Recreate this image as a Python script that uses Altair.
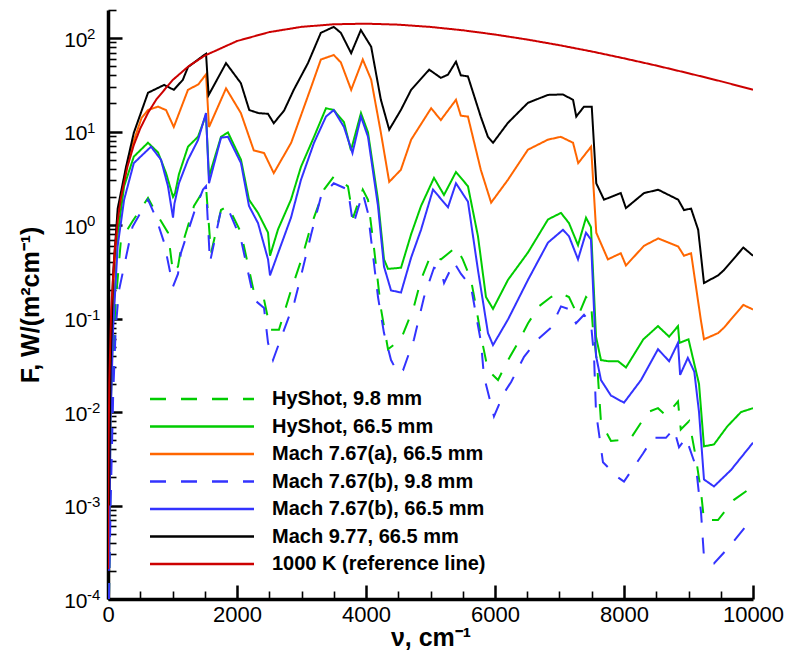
import altair as alt
import pandas as pd

# ---------------- data ----------------
SERIES = ["HyShot, 9.8 mm", "HyShot, 66.5 mm", "Mach 7.67(a), 66.5 mm",
          "Mach 7.67(b), 9.8 mm", "Mach 7.67(b), 66.5 mm", "Mach 9.77, 66.5 mm",
          "1000 K (reference line)"]
COLORS = ["#00cc00", "#00cc00", "#ff6600", "#3333ff", "#3333ff", "#000000", "#cc0000"]
DASHES = [[16, 15], [1, 0], [1, 0], [16, 15], [1, 0], [1, 0], [1, 0]]

nu_hy98 = [15, 40, 80, 120, 200, 380, 620, 744, 930, 1008, 1085, 1130, 1333, 1473, 1519,
           1597, 1752, 1860, 2062, 2264, 2419, 2481, 2527, 2650, 2837, 3000, 3147, 3349,
           3500, 3720, 3800, 3950, 4031, 4120, 4233, 4341, 4543, 4744, 4853, 5000, 5163,
           5395, 5500, 5628, 5705, 5783, 5891, 6047, 6202, 6357, 6512, 6680, 6868, 6990,
           7147, 7287, 7411, 7488, 7519, 7580, 7643, 7798, 7907, 8110, 8372, 8527, 8650,
           8837, 8880, 9010, 9116, 9194, 9240, 9457, 9705, 10000]
F_hy98 = [0.0001, 0.002, 0.03, 0.15, 0.69, 1.1, 1.95, 1.35, 0.83, 0.31, 0.36, 0.55, 1.6,
          2.3, 2.6, 0.5, 1.45, 1.6, 0.83, 0.19, 0.16, 0.1, 0.076, 0.076, 0.2, 0.43, 0.98,
          2.4, 3.3, 2.6, 1.2, 2.4, 1.87, 0.6, 0.126, 0.047, 0.06, 0.135, 0.26, 0.47, 0.43,
          0.58, 0.43, 0.26, 0.135, 0.065, 0.028, 0.022, 0.036, 0.055, 0.089, 0.135, 0.17,
          0.19, 0.17, 0.106, 0.17, 0.15, 0.076, 0.035, 0.0078, 0.0049, 0.005, 0.0053, 0.01,
          0.011, 0.0092, 0.013, 0.0065, 0.008, 0.0032, 0.0014, 0.0007, 0.0007, 0.00115,
          0.0016]

nu_hy665 = [15, 40, 80, 150, 250, 400, 620, 775, 900, 1008, 1040, 1100, 1240, 1395, 1519,
            1566, 1752, 1860, 2062, 2186, 2326, 2481, 2512, 2636, 2837, 2992, 3194, 3380,
            3500, 3659, 3767, 3922, 4031, 4186, 4279, 4341, 4543, 4700, 4853, 5054, 5209,
            5395, 5581, 5736, 5860, 5969, 6202, 6512, 6822, 7023, 7147, 7287, 7411, 7488,
            7566, 7643, 7752, 7907, 8031, 8300, 8527, 8700, 8837, 8860, 9000, 9163, 9240,
            9395, 9600, 9814, 10000]
F_hy665 = [0.0003, 0.01, 0.1, 0.8, 2.6, 5.4, 7.6, 6.0, 3.6, 2.0, 2.2, 3.5, 6.9, 8.8, 15,
           3.3, 8.8, 9.8, 5, 1.87, 1.35, 0.83, 0.47, 0.9, 1.87, 4.2, 8.8, 17.8, 17, 12.6,
           6.3, 15.8, 9.8, 1.87, 0.43, 0.34, 0.35, 0.8, 1.6, 3.2, 2.1, 3.7, 2.6, 0.76,
           0.17, 0.127, 0.26, 0.51, 1.15, 1.35, 1.05, 0.61, 1.2, 0.95, 0.064, 0.036, 0.035,
           0.035, 0.03, 0.06, 0.083, 0.064, 0.083, 0.055, 0.06, 0.02, 0.0043, 0.0045, 0.007,
           0.01, 0.011]

nu_a665 = [15, 40, 80, 150, 280, 400, 520, 620, 775, 900, 1020, 1240, 1400, 1520, 1566,
           1830, 2060, 2260, 2420, 2570, 2840, 3150, 3300, 3500, 3610, 3770, 3950, 4080,
           4230, 4360, 4540, 4700, 5010, 5160, 5395, 5470, 5580, 5780, 5940, 6200, 6510,
           6820, 7020, 7210, 7290, 7490, 7570, 7750, 7950, 8030, 8310, 8530, 8840, 8930,
           9040, 9190, 9240, 9460, 9550, 9850, 10000]
F_a665 = [0.0005, 0.02, 0.2, 1.3, 4, 8, 14, 17, 18.5, 17, 11.2, 28, 32, 41, 11.2, 29, 15.8,
          6.3, 5.9, 3.6, 7.6, 30, 59, 66, 55, 28, 59, 36, 9.8, 2.9, 3.9, 8.2, 17.8, 13.3,
          21.9, 14.8, 14.5, 3.9, 1.74, 3.05, 6.4, 8.2, 8.8, 7.6, 4.6, 6.9, 0.83, 0.43, 0.5,
          0.37, 0.6, 0.72, 0.59, 0.47, 0.5, 0.098, 0.06, 0.07, 0.08, 0.14, 0.125]

nu_b98 = [15, 40, 80, 120, 170, 380, 620, 744, 870, 1008, 1085, 1130, 1333, 1473, 1519,
          1581, 1752, 1860, 2062, 2264, 2419, 2481, 2558, 2690, 2890, 3000, 3150, 3300,
          3500, 3720, 3800, 3950, 4030, 4186, 4279, 4388, 4496, 4574, 4744, 4900, 5054,
          5163, 5210, 5364, 5473, 5628, 5705, 5783, 5829, 5984, 6140, 6250, 6450, 6667,
          6868, 7023, 7132, 7256, 7380, 7488, 7535, 7566, 7674, 7907, 8000, 8155, 8295,
          8450, 8650, 8775, 8853, 8961, 9116, 9194, 9240, 9395, 9628, 9969]
F_b98 = [0.0001, 0.001, 0.015, 0.08, 0.2, 0.96, 1.87, 1.2, 0.65, 0.22, 0.3, 0.5, 1.35, 2.4,
         2.6, 0.4, 1.45, 1.5, 0.7, 0.16, 0.13, 0.055, 0.036, 0.064, 0.15, 0.3, 0.8, 2.0,
         2.8, 2.4, 1.0, 2.2, 1.35, 0.17, 0.07, 0.036, 0.026, 0.028, 0.06, 0.17, 0.35, 0.33,
         0.24, 0.4, 0.3, 0.22, 0.11, 0.056, 0.024, 0.009, 0.016, 0.021, 0.039, 0.06, 0.08,
         0.135, 0.127, 0.089, 0.11, 0.089, 0.04, 0.01, 0.0029, 0.002, 0.0018, 0.0026,
         0.0036, 0.0053, 0.0053, 0.0066, 0.0042, 0.0053, 0.0026, 0.00085, 0.00028, 0.00024,
         0.00036, 0.0007]

nu_b665 = [15, 40, 80, 150, 250, 400, 667, 822, 930, 1008, 1030, 1100, 1240, 1395, 1519,
           1566, 1752, 1860, 2062, 2186, 2326, 2481, 2512, 2636, 2837, 2992, 3194, 3380,
           3500, 3659, 3790, 3922, 4031, 4186, 4279, 4388, 4543, 4700, 4853, 5039, 5271,
           5395, 5581, 5736, 5891, 5969, 6202, 6512, 6822, 7054, 7147, 7287, 7411, 7488,
           7566, 7643, 7798, 8000, 8264, 8527, 8700, 8837, 8870, 8990, 9090, 9163, 9240,
           9395, 9659, 10000]
F_b665 = [0.0002, 0.008, 0.08, 0.6, 1.87, 4.6, 6.9, 5.0, 2.6, 1.2, 1.7, 2.8, 5, 8.1, 15.8,
          2.8, 8.6, 8.8, 4.6, 1.6, 1.05, 0.43, 0.29, 0.5, 1.2, 3.05, 7.6, 14.5, 17, 11.2,
          5.9, 14.5, 8.8, 1.6, 0.36, 0.2, 0.19, 0.45, 0.89, 2.4, 1.55, 2.8, 1.78, 0.33, 0.07,
          0.052, 0.098, 0.26, 0.65, 0.89, 0.76, 0.43, 0.83, 0.7, 0.04, 0.022, 0.015, 0.0126,
          0.022, 0.047, 0.035, 0.055, 0.025, 0.038, 0.027, 0.01, 0.0019, 0.0016, 0.0024,
          0.0047]

nu_m977 = [15, 40, 80, 150, 280, 400, 620, 870, 1020, 1160, 1240, 1490, 1520, 1560, 1830,
           2060, 2190, 2330, 2480, 2570, 2730, 2880, 3100, 3300, 3500, 3610, 3770, 3920,
           4080, 4230, 4360, 4540, 4700, 4980, 5160, 5270, 5395, 5470, 5580, 5780, 5890,
           5970, 6200, 6510, 6820, 7050, 7210, 7260, 7380, 7500, 7570, 7690, 7950, 8030,
           8310, 8530, 8840, 8930, 9040, 9150, 9240, 9460, 9550, 9850, 10000]
F_m977 = [0.001, 0.03, 0.3, 1.5, 4.2, 9.7, 26, 31.6, 28, 35.8, 49, 66, 68, 24.6, 54, 33,
          17, 15.8, 15.5, 12.3, 16.8, 28, 54, 114, 132, 114, 69, 122, 81, 22, 10.5, 17, 28,
          46, 37.6, 40.6, 56, 40, 39, 14.4, 8.8, 7.6, 12.4, 20.3, 24.7, 25, 21.9, 14.5,
          18.5, 18.5, 2.8, 1.87, 2.2, 1.52, 2.2, 2.39, 1.87, 1.45, 1.5, 0.89, 0.24, 0.29,
          0.33, 0.575, 0.47]

nu_ref = [2, 5, 10, 20, 50, 100, 150, 200, 300, 400, 500, 625, 750, 1000, 1250, 1500, 2000,
          2500, 3000, 3500, 4000, 4500, 5000, 5500, 6000, 6500, 7000, 7500, 8000, 8500,
          9000, 9500, 10000]
F_ref = [2.08e-4, 1.30e-3, 5.18e-3, 0.0207, 0.128, 0.502, 1.109, 1.935, 4.19, 7.18, 10.8,
         16.09, 22.1, 35.5, 50.1, 65.0, 93.1, 116.0, 132.0, 140.7, 142.8, 139.4, 131.8,
         121.4, 109.3, 96.6, 84.0, 72.0, 60.8, 50.9, 42.1, 34.6, 28.1]

X_MAJOR = [0, 2000, 4000, 6000, 8000, 10000]
X_MINOR = [500, 1000, 1500, 2500, 3000, 3500, 4500, 5000, 5500, 6500, 7000, 7500,
           8500, 9000, 9500]
Y_MAJOR = [1e-4, 1e-3, 1e-2, 1e-1, 1e0, 1e1, 1e2]
Y_EXP = ["-4", "-3", "-2", "-1", "0", "1", "2"]
Y_MINOR = [m * d for d in [1e-4, 1e-3, 1e-2, 1e-1, 1e0, 1e1] for m in range(2, 10)] + [200]

# ---------------- build table ----------------
NU = [nu_hy98, nu_hy665, nu_a665, nu_b98, nu_b665, nu_m977, nu_ref]
FV = [F_hy98, F_hy665, F_a665, F_b98, F_b665, F_m977, F_ref]
frames = [pd.DataFrame({"nu": n, "F": f, "series": s, "k": i})
          for i, (s, n, f) in enumerate(zip(SERIES, NU, FV))]
df = pd.concat(frames, ignore_index=True)

W, H = 645, 589
FONT = "Liberation Sans"

xs = alt.Scale(domain=[0, 10000], nice=False, zero=False)
ys = alt.Scale(type="log", domain=[1e-4, 200], nice=False)

# inward ticks are drawn as very short axis grid lines (dash = tick length)
X_IS_MAJOR = "datum.value % 2000 == 0"
Y_IS_MAJOR = "abs(log(datum.value)/LN10 - round(log(datum.value)/LN10)) < 0.000001"

ax_x = alt.Axis(
    orient="bottom", values=X_MAJOR + X_MINOR, format="d", labelFlush=False,
    labelOverlap=False, labelExpr=f"({X_IS_MAJOR}) ? datum.label : ''",
    ticks=False, tickSize=0, domainColor="black", domainWidth=3.5,
    grid=True, gridColor="black", gridOpacity=1,
    gridDash={"condition": {"test": X_IS_MAJOR, "value": [0, H - 14, 14, 3000]},
              "value": [0, H - 8, 8, 3000]},
    gridWidth={"condition": {"test": X_IS_MAJOR, "value": 2.5}, "value": 1.6},
    labelFont=FONT, labelFontSize=22, labelColor="black", labelPadding=5,
    title="ν, cm⁻¹", titleFont=FONT, titleFontSize=25, titleFontWeight="bold",
    titleColor="black", titleBaseline="alphabetic", titleY=46)
ax_y = alt.Axis(
    orient="left", values=Y_MAJOR + Y_MINOR, labelExpr=f"({Y_IS_MAJOR}) ? '10' : ''",
    labelFlush=False, labelOverlap=False,
    ticks=False, tickSize=0, domainColor="black", domainWidth=3.5,
    grid=True, gridColor="black", gridOpacity=1,
    gridDash={"condition": {"test": Y_IS_MAJOR, "value": [14, 3000]}, "value": [8, 3000]},
    gridWidth={"condition": {"test": Y_IS_MAJOR, "value": 2.5}, "value": 1.6},
    labelFont=FONT, labelFontSize=21, labelColor="black", labelPadding=21,
    labelBaseline="middle", labelOffset=2,
    title="F, W/(m²cm⁻¹)", titleFont=FONT, titleFontSize=25,
    titleFontWeight="bold", titleColor="black", titleAngle=270,
    titleBaseline="alphabetic", titleAlign="center", titleX=-70, titleY=H / 2)

leg = alt.Legend(title=None, orient="none", legendX=32, legendY=379,
                 symbolType="M-52,0H52", symbolSize=4, symbolStrokeWidth=2.5,
                 symbolOffset=52, labelOffset=60, labelFont=FONT, labelFontSize=20,
                 labelFontWeight="bold", labelColor="black", labelLimit=400,
                 rowPadding=7.5, padding=0)

main = alt.Chart(df).mark_line(strokeWidth=2, clip=True).encode(
    x=alt.X("nu:Q", scale=xs, axis=ax_x),
    y=alt.Y("F:Q", scale=ys, axis=ax_y),
    color=alt.Color("series:N", scale=alt.Scale(domain=SERIES, range=COLORS), legend=leg),
    strokeDash=alt.StrokeDash("series:N", scale=alt.Scale(domain=SERIES, range=DASHES),
                              legend=leg),
    order=alt.Order("k:Q"),
)

# exponents of the y tick labels (superscripts)
yexp = alt.Chart(pd.DataFrame({"F": Y_MAJOR, "e": Y_EXP})).mark_text(
    align="left", baseline="alphabetic", font=FONT, fontSize=15, color="black",
    dx=0, dy=1).encode(
    y=alt.Y("F:Q", scale=ys, axis=None), x=alt.value(-21), text="e:N")

chart = alt.layer(main, yexp).resolve_axis(
    x="independent", y="independent").properties(
    width=W, height=H,
    padding={"left": 108, "top": 10, "right": 35, "bottom": 55},
    autosize=alt.AutoSizeParams(type="none"),
    background="white",
).configure_view(stroke=None)

chart.save("out.html", embed_options={"renderer": "svg", "actions": False})
